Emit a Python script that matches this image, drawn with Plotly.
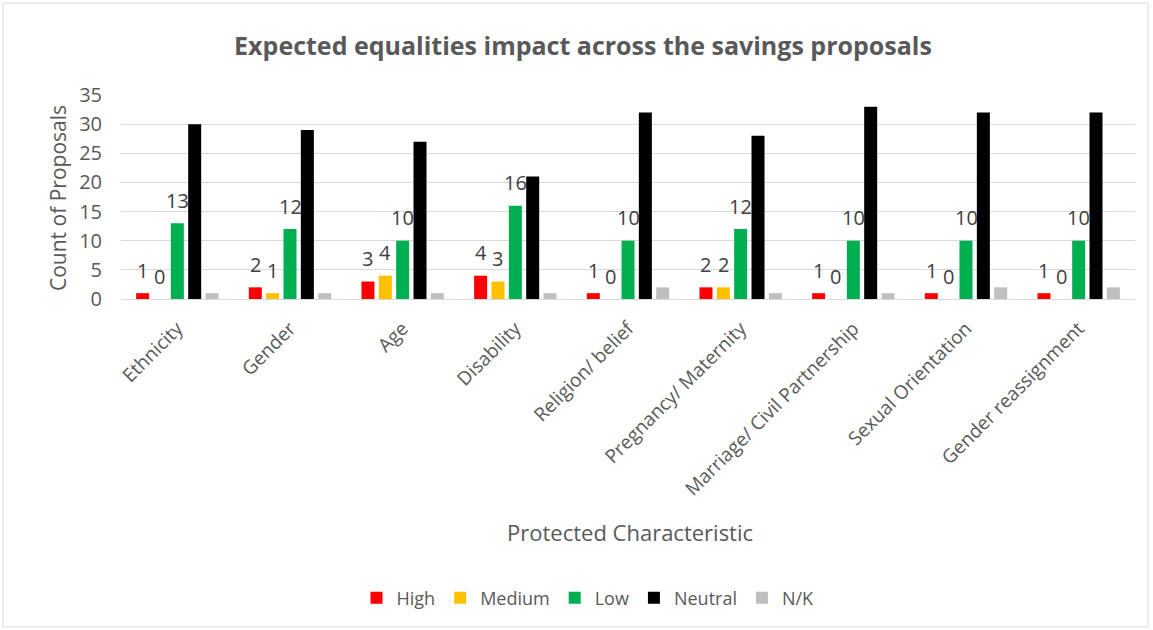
import plotly.graph_objects as go

categories = ["Ethnicity", "Gender", "Age", "Disability", "Religion/ belief",
              "Pregnancy/ Maternity", "Marriage/ Civil Partnership",
              "Sexual Orientation", "Gender reassignment"]
high = [1, 2, 3, 4, 1, 2, 1, 1, 1]
medium = [0, 1, 4, 3, 0, 2, 0, 0, 0]
low = [13, 12, 10, 16, 10, 12, 10, 10, 10]
neutral = [30, 29, 27, 21, 32, 28, 33, 32, 32]
nk = [1, 1, 1, 1, 2, 1, 1, 2, 2]

series_names = ["High", "Medium", "Low", "Neutral", "N/K"]
series_vals = [high, medium, low, neutral, nk]
colors = ["#FF0000", "#FFC000", "#00B050", "#000000", "#BFBFBF"]
labelled = [True, True, True, False, False]

W, H = 1153, 630
ML, MT = 121, 95
PR, PB = 1135, 299
MR, MB = W - PR, H - PB
PW = W - ML - MR
PH = H - MT - MB
FONT = "Open Sans"
GRAY = "#595959"

fig = go.Figure()
for name, vals, col in zip(series_names, series_vals, colors):
    fig.add_trace(go.Bar(name=name, x=categories, y=vals, marker_color=col,
                         marker_line_width=0))

bargap = 0.23
groupgap = 0.25
cat_w = PW / len(categories)
pitch = cat_w * (1 - bargap) / len(series_names)

annotations = []
for j, (vals, lab) in enumerate(zip(series_vals, labelled)):
    if not lab:
        continue
    for c, v in zip(categories, vals):
        annotations.append(dict(x=c, y=v, xref="x", yref="y", text=str(v),
                                showarrow=False, xanchor="center", yanchor="middle",
                                yshift=23, xshift=(j - 2) * pitch,
                                font=dict(family=FONT, size=20, color="#404040")))

def py(px):
    return (PB - px) / PH

def pxr(px):
    return (px - ML) / PW

annotations.append(dict(text="Protected Characteristic", xref="paper", yref="paper",
                        x=pxr(630), y=py(532), showarrow=False,
                        xanchor="center", yanchor="middle",
                        font=dict(family=FONT, size=22, color=GRAY)))
annotations.append(dict(text="Count of Proposals", xref="paper", yref="paper",
                        x=pxr(58), y=py(198), showarrow=False, textangle=-90,
                        xanchor="center", yanchor="middle",
                        font=dict(family=FONT, size=21, color=GRAY)))

fig.update_layout(
    width=W, height=H,
    margin=dict(l=ML, r=MR, t=MT, b=MB, autoexpand=False),
    paper_bgcolor="white", plot_bgcolor="white",
    barmode="group", bargap=bargap, bargroupgap=groupgap,
    title=dict(text="<b>Expected equalities impact across the savings proposals</b>",
               x=583 / W, xanchor="center", y=1 - 46 / H, yanchor="middle",
               font=dict(family=FONT, size=25, color=GRAY)),
    font=dict(family=FONT, color=GRAY),
    legend=dict(orientation="h", x=pxr(588), xanchor="center", y=py(598),
                yanchor="middle", font=dict(family=FONT, size=18, color=GRAY),
                itemwidth=30, tracegroupgap=0),
    annotations=annotations,
    shapes=[dict(type="rect", xref="paper", yref="paper",
                 x0=pxr(3), x1=pxr(1148), y0=py(627), y1=py(3),
                 line=dict(color="#D9D9D9", width=1), layer="below")],
)
fig.update_yaxes(range=[0, 35], dtick=5, showgrid=True, gridcolor="#D9D9D9",
                 gridwidth=1, zeroline=False, showline=False, automargin=False,
                 tickfont=dict(family=FONT, size=20, color=GRAY), ticks="",
                 ticklabelstandoff=18)
fig.update_xaxes(tickangle=-45, showline=True, linecolor="#D9D9D9", linewidth=1,
                 ticks="", automargin=False, ticklabelstandoff=10,
                 tickfont=dict(family=FONT, size=19, color=GRAY))

fig.write_html("out.html", config={"displayModeBar": False},
               post_script="document.body.style.margin='0';")
